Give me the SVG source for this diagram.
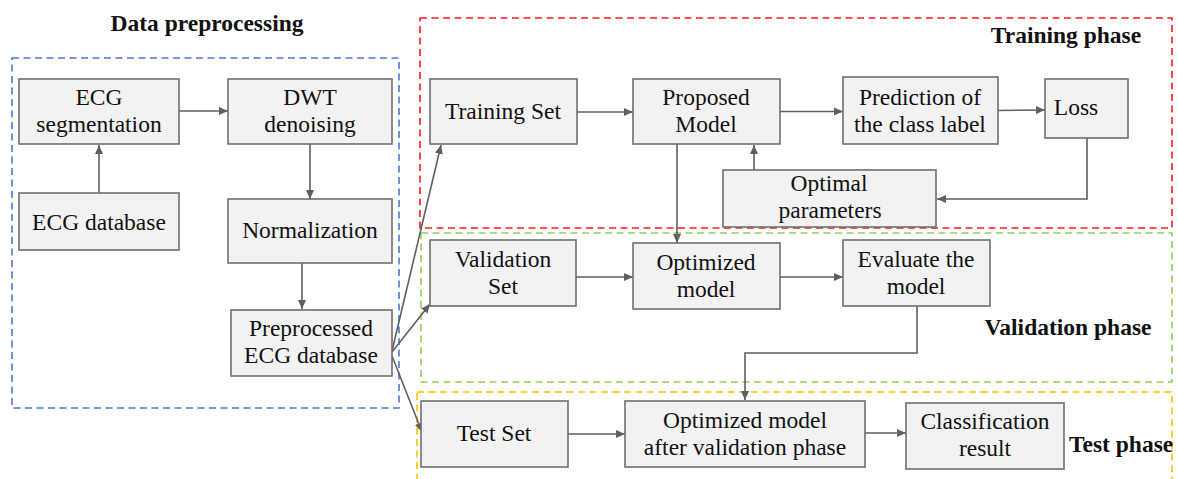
<svg xmlns="http://www.w3.org/2000/svg" width="1178" height="479" viewBox="0 0 1178 479">
  <style>
    text { font-family: 'Liberation Serif', 'Times New Roman', 'DejaVu Serif', serif; fill: #111111; }
    .box { fill: #f2f2f2; stroke: #6f6f6f; stroke-width: 1.6; }
    .lbl { font-size: 23.5px; text-anchor: middle; }
    .ttl { font-size: 23.5px; font-weight: bold; }
    .edge { fill: none; stroke: #5f5f5f; stroke-width: 1.6; }
    .phase { fill: none; stroke-width: 1.6; stroke-dasharray: 7 4.5; }
  </style>
  <defs>
    <marker id="ah" markerUnits="userSpaceOnUse" markerWidth="10" markerHeight="10" viewBox="0 0 10 10" refX="9" refY="5" orient="auto">
      <path d="M0,1 L9,5 L0,9 Z" fill="#5f5f5f"/>
    </marker>
  </defs>

  <rect width="1178" height="479" fill="#ffffff"/>

  <!-- phase frames -->
  <g id="frames">
    <rect class="phase" x="12" y="58" width="387" height="350" stroke="#4a78d6"/>
    <rect class="phase" x="420" y="18" width="752" height="210" stroke="#ff1a1a"/>
    <rect class="phase" x="421" y="233" width="751" height="149" stroke="#92d050"/>
    <rect class="phase" x="417" y="392" width="755" height="100" stroke="#ffc000"/>
  </g>

  <!-- phase titles -->
  <g id="titles" font-family="Liberation Serif, serif">
    <text class="ttl" x="207" y="31" text-anchor="middle">Data preprocessing</text>
    <text class="ttl" x="1066" y="43" text-anchor="middle">Training phase</text>
    <text class="ttl" x="1068" y="335" text-anchor="middle">Validation phase</text>
    <text class="ttl" x="1069" y="452">Test phase</text>
  </g>

  <!-- connectors -->
  <g id="connectors">
    <line class="edge" x1="179" y1="111" x2="228" y2="111" marker-end="url(#ah)"/>
    <line class="edge" x1="99" y1="193" x2="99" y2="145" marker-end="url(#ah)"/>
    <line class="edge" x1="310" y1="144" x2="310" y2="199" marker-end="url(#ah)"/>
    <line class="edge" x1="302" y1="263" x2="302" y2="309" marker-end="url(#ah)"/>
    <line class="edge" x1="392" y1="351" x2="441" y2="145" marker-end="url(#ah)"/>
    <line class="edge" x1="392" y1="352" x2="430" y2="304" marker-end="url(#ah)"/>
    <line class="edge" x1="392" y1="356" x2="422" y2="432" marker-end="url(#ah)"/>
    <line class="edge" x1="577" y1="112" x2="633" y2="112" marker-end="url(#ah)"/>
    <line class="edge" x1="780" y1="111.5" x2="843" y2="111.5" marker-end="url(#ah)"/>
    <line class="edge" x1="998" y1="110.5" x2="1045" y2="110" marker-end="url(#ah)"/>
    <polyline class="edge" points="1087,138 1087,199 937,199" marker-end="url(#ah)"/>
    <line class="edge" x1="754" y1="170" x2="754" y2="145" marker-end="url(#ah)"/>
    <line class="edge" x1="677" y1="144" x2="677" y2="243" marker-end="url(#ah)"/>
    <line class="edge" x1="576" y1="277" x2="633" y2="277" marker-end="url(#ah)"/>
    <line class="edge" x1="780" y1="277" x2="843" y2="277" marker-end="url(#ah)"/>
    <polyline class="edge" points="917,306 917,353 745,353 745,400" marker-end="url(#ah)"/>
    <line class="edge" x1="568" y1="434" x2="625" y2="434" marker-end="url(#ah)"/>
    <line class="edge" x1="865" y1="433" x2="906" y2="433" marker-end="url(#ah)"/>
  </g>

  <!-- preprocessing nodes -->
  <g id="ecg-segmentation" font-family="Liberation Serif, serif">
    <rect class="box" x="19" y="79" width="160" height="65"/>
    <text class="lbl" x="99" y="105">ECG</text>
    <text class="lbl" x="99" y="132">segmentation</text>
  </g>
  <g id="dwt-denoising" font-family="Liberation Serif, serif">
    <rect class="box" x="228" y="79" width="164" height="65"/>
    <text class="lbl" x="310" y="105">DWT</text>
    <text class="lbl" x="310" y="132">denoising</text>
  </g>
  <g id="ecg-database" font-family="Liberation Serif, serif">
    <rect class="box" x="19" y="193" width="160" height="57"/>
    <text class="lbl" x="99" y="230">ECG database</text>
  </g>
  <g id="normalization" font-family="Liberation Serif, serif">
    <rect class="box" x="228" y="199" width="164" height="64"/>
    <text class="lbl" x="310" y="238">Normalization</text>
  </g>
  <g id="preprocessed-db" font-family="Liberation Serif, serif">
    <rect class="box" x="231" y="310" width="161" height="66"/>
    <text class="lbl" x="311" y="336">Preprocessed</text>
    <text class="lbl" x="311" y="363">ECG database</text>
  </g>

  <!-- training nodes -->
  <g id="training-set" font-family="Liberation Serif, serif">
    <rect class="box" x="430" y="79" width="147" height="65"/>
    <text class="lbl" x="503" y="119">Training Set</text>
  </g>
  <g id="proposed-model" font-family="Liberation Serif, serif">
    <rect class="box" x="633" y="79" width="147" height="65"/>
    <text class="lbl" x="706" y="105">Proposed</text>
    <text class="lbl" x="706" y="132">Model</text>
  </g>
  <g id="prediction" font-family="Liberation Serif, serif">
    <rect class="box" x="843" y="77" width="155" height="67"/>
    <text class="lbl" x="920" y="105">Prediction of</text>
    <text class="lbl" x="920" y="132">the class label</text>
  </g>
  <g id="loss" font-family="Liberation Serif, serif">
    <rect class="box" x="1045" y="79" width="83" height="59"/>
    <text class="lbl" x="1076" y="115">Loss</text>
  </g>
  <g id="optimal-parameters" font-family="Liberation Serif, serif">
    <rect class="box" x="723" y="170" width="213" height="57"/>
    <text class="lbl" x="829" y="191">Optimal</text>
    <text class="lbl" x="830" y="218">parameters</text>
  </g>

  <!-- validation nodes -->
  <g id="validation-set" font-family="Liberation Serif, serif">
    <rect class="box" x="430" y="240" width="146" height="66"/>
    <text class="lbl" x="503" y="267">Validation</text>
    <text class="lbl" x="503" y="294">Set</text>
  </g>
  <g id="optimized-model" font-family="Liberation Serif, serif">
    <rect class="box" x="633" y="243" width="147" height="66"/>
    <text class="lbl" x="706" y="270">Optimized</text>
    <text class="lbl" x="706" y="297">model</text>
  </g>
  <g id="evaluate-model" font-family="Liberation Serif, serif">
    <rect class="box" x="843" y="240" width="147" height="66"/>
    <text class="lbl" x="916" y="267">Evaluate the</text>
    <text class="lbl" x="916" y="294">model</text>
  </g>

  <!-- test nodes -->
  <g id="test-set" font-family="Liberation Serif, serif">
    <rect class="box" x="421" y="401" width="147" height="66"/>
    <text class="lbl" x="494" y="441">Test Set</text>
  </g>
  <g id="optimized-after-validation" font-family="Liberation Serif, serif">
    <rect class="box" x="625" y="401" width="240" height="66"/>
    <text class="lbl" x="745" y="428">Optimized model</text>
    <text class="lbl" x="745" y="455">after validation phase</text>
  </g>
  <g id="classification-result" font-family="Liberation Serif, serif">
    <rect class="box" x="906" y="403" width="158" height="66"/>
    <text class="lbl" x="985" y="429">Classification</text>
    <text class="lbl" x="985" y="456">result</text>
  </g>
</svg>
